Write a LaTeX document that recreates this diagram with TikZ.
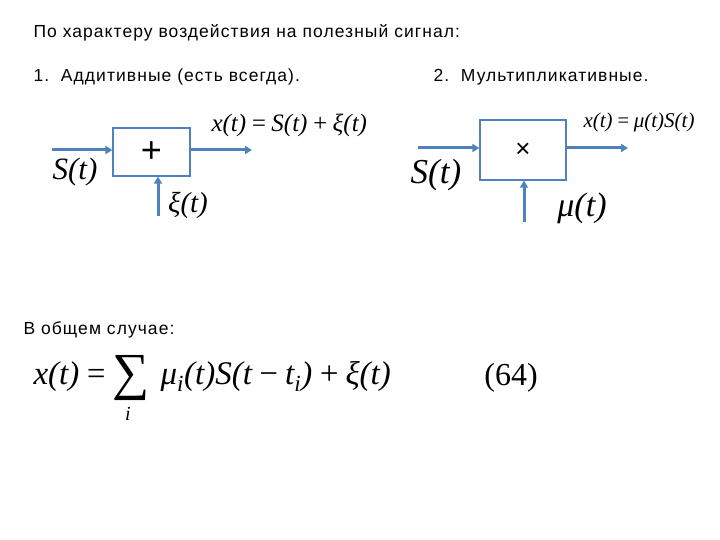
\documentclass[tikz,border=0pt]{standalone}
\usepackage{fontspec}
\setmainfont{Liberation Sans}
\newfontfamily\tms{Liberation Serif}
\usetikzlibrary{arrows.meta}
\definecolor{bl}{HTML}{4F81BD}
\tikzset{arr/.style={bl,line width=3pt,-{Triangle[length=7pt,width=8pt]}},
 blk/.style={draw=bl,line width=1.2pt,minimum width=#1},
 txt/.style={anchor=west,font=\fontsize{17.5}{20}\selectfont\addfontfeatures{LetterSpace=6}},
 fm/.style={font=\tms\fontsize{17}{19}\selectfont\itshape}}
\begin{document}
\begin{tikzpicture}[x=1pt,y=-1pt]
\useasboundingbox (0,0) rectangle (720,540);
\node[txt] (t0) at (30,33) {По характеру воздействия на полезный сигнал:};
\node[txt] (t1) at (30,77) {1.\ \ Аддитивные (есть всегда).};
\node[txt] (t2) at (430,77) {2.\ \ Мультипликативные.};
\node[txt] (t3) at (20,330) {В общем случае:};
% left
\node[blk=77pt,minimum height=48pt] (b1) at (151.5,152) {\fontsize{36}{36}\selectfont +};
\coordinate (i1) at (52,150); \coordinate (o1) at (252,150); \coordinate (n1) at (158,216);
\draw[arr] (i1) -- (b1.west|-i1);
\draw[arr] (b1.east|-o1) -- (o1);
\draw[arr] (n1) -- (b1.south-|n1);
\node[fm,font=\tms\fontsize{31}{33}\selectfont\itshape] (s1) at (75,172) {S(t)};
\node[fm,font=\tms\fontsize{29}{31}\selectfont\itshape] (x1) at (188,205) {ξ(t)};
\node[fm,anchor=west,font=\tms\fontsize{25}{27}\selectfont\itshape] (f1) at (208,125) {x(t)\,=\,S(t)\,+\,ξ(t)};
% right
\node[blk=86pt,minimum height=60pt] (b2) at (523,150) {\fontsize{26}{26}\selectfont ×};
\coordinate (i2) at (418,148); \coordinate (o2) at (628,148); \coordinate (n2) at (524,222);
\draw[arr] (i2) -- (b2.west|-i2);
\draw[arr] (b2.east|-o2) -- (o2);
\draw[arr] (n2) -- (b2.south-|n2);
\node[fm,font=\tms\fontsize{35}{37}\selectfont\itshape] (s2) at (436,175) {S(t)};
\node[fm,font=\tms\fontsize{34}{36}\selectfont\itshape] (m2) at (582,208) {μ(t)};
\node[fm,anchor=west,font=\tms\fontsize{21}{23}\selectfont\itshape] (f2) at (580,122) {x(t)\,=\,μ(t)S(t)};
% general
\node[fm,anchor=west,font=\tms\fontsize{33}{35}\selectfont\itshape] (g) at (30,378)
 {x(t)\,=\,\raisebox{-5pt}{\upshape\fontsize{52}{52}\selectfont ∑}\,\,μ\textsubscript{i}(t)S(t\,−\,t\textsubscript{i})\,+\,ξ(t)};
\node[fm,font=\tms\fontsize{20}{22}\selectfont\itshape] (gi) at (128,414) {i};
\node[fm,font=\tms\fontsize{32}{34}\selectfont\upshape] (n64) at (511,378) {(64)};
\end{tikzpicture}
\end{document}
